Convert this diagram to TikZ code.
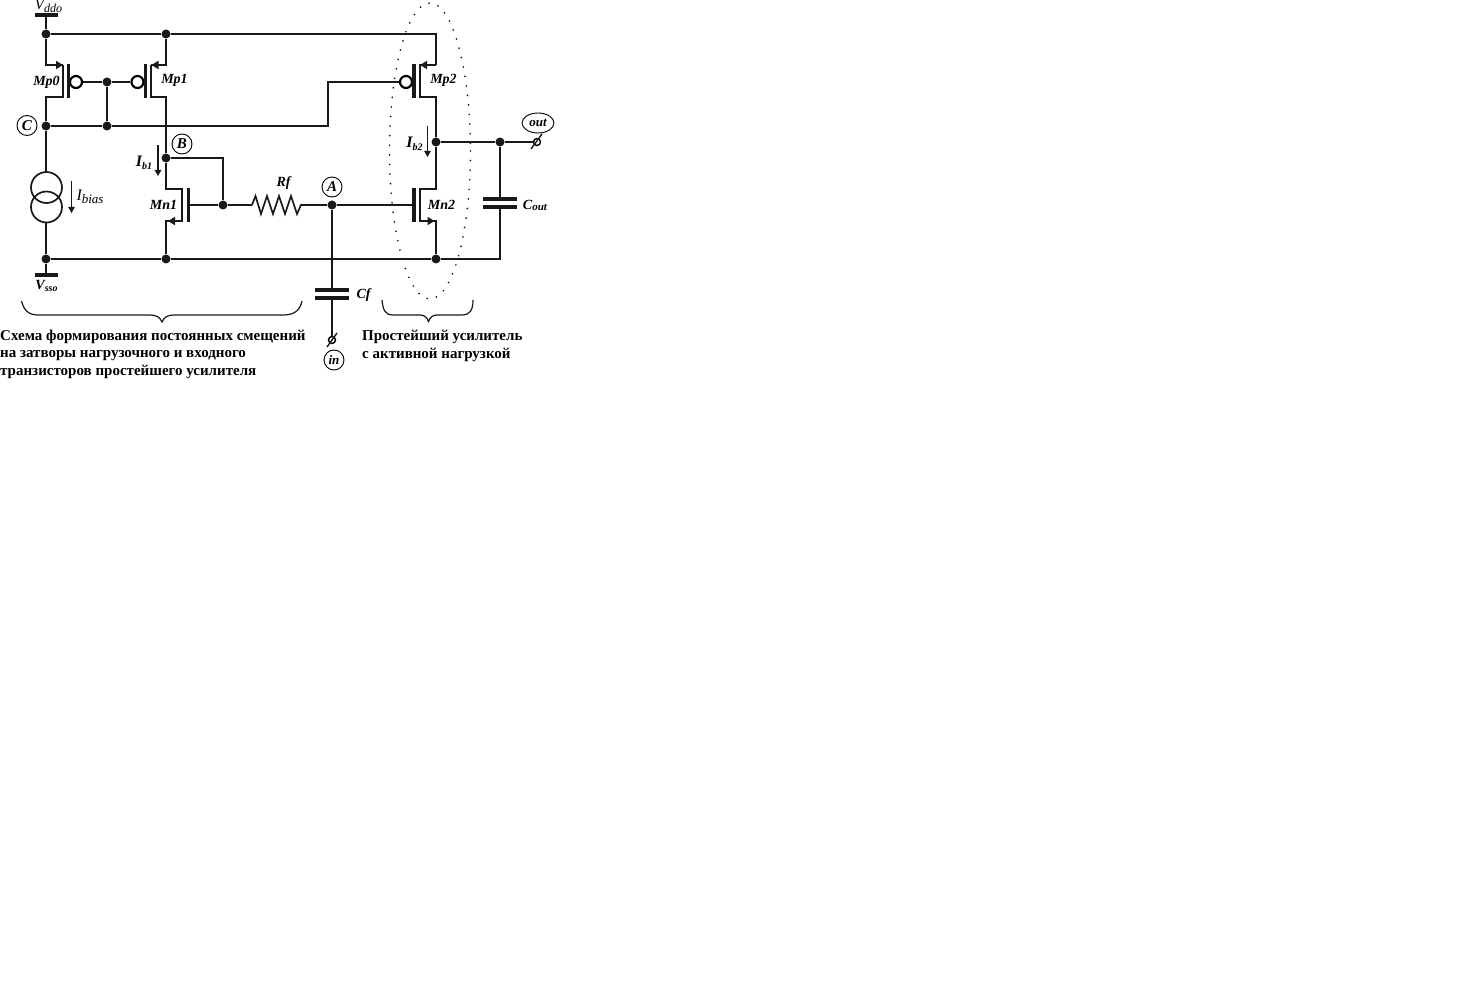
\documentclass[tikz,border=0pt]{standalone}
\usepackage{fontspec}
\setmainfont{Liberation Serif}
\usetikzlibrary{arrows.meta,calc,shapes.geometric}
\newcommand{\subsc}[2][10]{\raisebox{-2.5pt}{\fontsize{#1}{#1}\selectfont #2}}
\begin{document}
\begin{tikzpicture}[x=1pt,y=-1pt,
 wire/.style={line width=1.9pt,black!90},
 thin wire/.style={line width=1.1pt,black!90},
 plate/.style={line width=3.8pt,black!90},
 dot/.style={circle,fill=black!90,inner sep=0,minimum size=9pt},
 circ/.style={circle,draw,line width=.9pt,inner sep=0,minimum size=20pt},
 bub/.style={circle,draw,line width=2.2pt,fill=white,inner sep=0,minimum size=12pt},
 pin/.style={circle,draw,line width=1.4pt,inner sep=0,minimum size=7pt},
 lab/.style={inner sep=0,font=\bfseries\itshape\fontsize{14}{14}\selectfont},
 rus/.style={inner sep=0,anchor=base west,font=\bfseries\fontsize{15}{15}\selectfont},
 arr/.style={line width=1.1pt,black!90,-{Triangle[length=6pt,width=6.5pt]}},
 ar/.style={-{Triangle[length=7pt,width=8pt]},line width=1.9pt,black!90},
 brace/.style={line width=1.2pt,black!90}]
\useasboundingbox (0,0) rectangle (1465,1000);
% named junctions
\foreach \n/\x/\y in {vd/46/34,t/166/34,c/46/126,cm/107/126,g/107/82,b/166/158,gn/223/205,a/332/205,d2/436/142,o/500/142,gnd/46/259,s1/166/259,s2/436/259}
  \node[dot] (\n) at (\x,\y) {};
\coordinate (vt) at (46,15);
\coordinate (vb) at (46,275);
\draw[plate] (35,15) -- (58,15);
\draw[plate] (35,275) -- (58,275);
\draw[wire] (vt) -- (vd);
\draw[wire] (vb) -- (gnd);
\draw[wire] (vd) -- (t);
\draw[wire] (t) -- (436,34) -- (436,65);
\draw[wire] (gnd) -- (s1); \draw[wire] (s1) -- (s2); \draw[wire] (s2) -- (500,259) -- (500,207);
% bubbles
\node[bub] (b0) at (76,82) {};
\node[bub] (b1) at (137.5,82) {};
\node[bub] (b2) at (406,82) {};
% Mp0
\draw[wire] (vd) -- (46,65) -- (63,65);
\draw[ar] (50,65) -- (63,65);
\draw[wire] (63,65) -- (63,97) -- (46,97) -- (c);
\draw[plate] (68.5,64) -- (68.5,98.5);
\draw[wire] (b0) -- (g);
% Mp1
\draw[wire] (t) -- (166,65) -- (151,65);
\draw[ar] (163,65) -- (151.5,65);
\draw[wire] (151,65) -- (151,97) -- (166,97) -- (b);
\draw[plate] (145.5,64) -- (145.5,98.5);
\draw[wire] (g) -- (b1);
\draw[wire] (g) -- (cm);
\draw[wire] (c) -- (cm);
\draw[wire] (cm) -- (328,126) -- (328,82) -- (b2);
% Mp2
\draw[wire] (436,65) -- (420,65) -- (420,97) -- (436,97) -- (d2);
\draw[ar] (433,65) -- (420,65);
\draw[plate] (414,64) -- (414,98.5);
% Mn1
\draw[wire] (b) -- (166,189) -- (182,189) -- (182,221) -- (166,221) -- (s1);
\draw[ar] (180,221) -- (168,221);
\draw[plate] (188.5,188) -- (188.5,222);
\draw[wire] (b) -- (223,158) -- (gn);
\draw[thin wire] (188,205) -- (gn);
% Rf
\draw[thin wire] (gn) -- (252,205);
\draw[line width=1.7pt,black!90,line join=miter] (252,205) -- (255.5,196) -- (261,214) -- (267,196) -- (273,214) -- (279,196) -- (285,214) -- (291,196) -- (297,214) -- (301,205) -- (306,205);
\draw[thin wire] (306,205) -- (a);
\draw[thin wire] (a) -- (414,205);
% Mn2
\draw[plate] (414,188) -- (414,222);
\draw[wire] (d2) -- (436,189) -- (420,189) -- (420,221) -- (436,221) -- (s2);
\draw[ar] (422,221) -- (434.5,221);
% output
\node[pin] (po) at (537,142) {};
\draw[wire] (d2) -- (o);
\draw[wire] (o) -- (500,199);
\draw[plate] (483,199) -- (517,199);
\draw[plate] (483,207) -- (517,207);
\draw[wire] (o) -- (po);
\draw[line width=1.4pt,black!90] (531,149) -- (542,134);
\node[draw,ellipse,line width=.9pt,inner sep=0,minimum width=32pt,minimum height=20pt,font=\bfseries\itshape\fontsize{13}{13}\selectfont] (out) at (538,123) {out};
% Ibias
\draw[wire] (c) -- (46,172);
\draw[line width=1.7pt,black!90] (46.5,187.5) circle (15.5);
\draw[line width=1.7pt,black!90] (46.5,207) circle (15.5);
\draw[wire] (46,222.5) -- (gnd);
% Cf
\node[pin] (pi) at (332,340) {};
\draw[wire] (a) -- (332,290);
\draw[plate] (315,290) -- (349,290);
\draw[plate] (315,298) -- (349,298);
\draw[wire] (332,298) -- (pi);
\draw[line width=1.4pt,black!90] (327,347) -- (337,333);
\node[circ,font=\bfseries\itshape\fontsize{13}{13}\selectfont] (in) at (334,360) {in};
% labels
\node[circ,font=\bfseries\itshape\fontsize{15}{15}\selectfont] (lc) at (27,125.5) {C};
\node[circ,font=\bfseries\itshape\fontsize{15}{15}\selectfont] (lb) at (182,144) {B};
\node[circ,font=\bfseries\itshape\fontsize{15}{15}\selectfont] (la) at (332,187) {A};
\node[lab,font=\itshape\fontsize{15}{15}\selectfont] (vdd) at (48.5,6) {V\subsc[12]{ddo}};
\node[lab] (vss) at (46.5,286) {V\subsc{sso}};
\node[lab] (mp0) at (46.5,82) {Mp0};
\node[lab] (mp1) at (174.5,80) {Mp1};
\node[lab] (mp2) at (443.5,80) {Mp2};
\node[lab] (mn1) at (163.5,204.5) {Mn1};
\node[lab] (mn2) at (441.5,205) {Mn2};
\node[lab] (rf) at (283.5,183) {Rf};
\node[lab] (cf) at (363.5,295) {Cf};
\node[lab] (cout) at (535,205.5) {C\raisebox{-1pt}{\fontsize{11}{11}\selectfont out}};
\node[lab,font=\bfseries\itshape\fontsize{16}{16}\selectfont] (ib1) at (144,163) {I\subsc{b1}};
\node[lab,font=\bfseries\itshape\fontsize{16}{16}\selectfont] (ib2) at (414.5,144) {I\subsc{b2}};
\node[lab,font=\itshape\fontsize{16}{16}\selectfont] (ibias) at (90,197) {I\subsc[13]{bias}};
\coordinate (a1s) at (158,145); \coordinate (a1e) at (158,176);
\coordinate (a2s) at (427.5,126); \coordinate (a2e) at (427.5,157);
\coordinate (a3s) at (71.5,181); \coordinate (a3e) at (71.5,213);
\draw[arr] (a1s) -- (a1e);
\draw[arr] (a2s) -- (a2e);
\draw[arr] (a3s) -- (a3e);
% braces
\draw[brace] (21.5,301) .. controls (24,310) and (28,315) .. (38,315) -- (150,315) .. controls (156,315) and (160,317) .. (162,322) .. controls (164,317) and (168,315) .. (174,315) -- (283,315) .. controls (295,315) and (300,310) .. (302,301);
\draw[brace] (382,300) .. controls (383,310) and (385,315) .. (393,315) -- (420,315) .. controls (424,315) and (427,317) .. (428.5,321.5) .. controls (430,317) and (433,315) .. (437,315) -- (462,315) .. controls (470,315) and (473,310) .. (473,300);
% dotted ellipse
\draw[line width=1.9pt,line cap=round,black!90,dash pattern=on 0pt off 9.6pt] (430,151) ellipse (40.5 and 148);
% Russian text
\node[rus] (t1) at (0,341) {Схема формирования постоянных смещений};
\node[rus] (t2) at (0,358) {на затворы нагрузочного и входного};
\node[rus] (t3) at (0,376) {транзисторов простейшего усилителя};
\node[rus] (t4) at (362,341) {Простейший усилитель};
\node[rus] (t5) at (362,359) {с активной нагрузкой};
\end{tikzpicture}
\end{document}
